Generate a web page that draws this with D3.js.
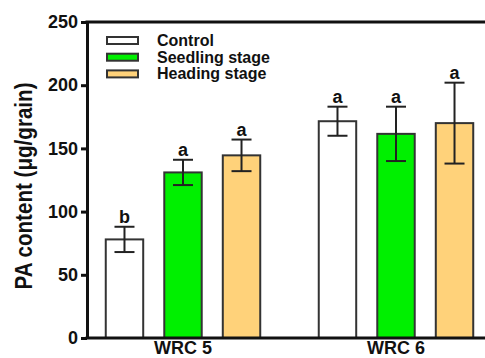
<!DOCTYPE html>
<html>
<head>
<meta charset="utf-8">
<script src="https://cdn.jsdelivr.net/npm/d3@7"></script>
<style>
  body { margin: 0; background: #fff; }
  text { font-family: "Liberation Sans", Arial, sans-serif; font-weight: bold; fill: #111; }
</style>
</head>
<body>
<div id="chart"></div>
<script>
// data
const groups = ['WRC 5', 'WRC 6'];
const series = ['Control', 'Seedling stage', 'Heading stage'];
const colors = ['#ffffff', '#00f000', '#ffd27a'];
const means = [
  [78, 131, 144.5],
  [171.5, 161.5, 170]
];
const errors = [
  [10, 10, 12.5],
  [11.5, 21.5, 32]
];
const letters = [
  ['b', 'a', 'a'],
  ['a', 'a', 'a']
];
const yTicks = [0, 50, 100, 150, 200, 250];

const width = 485, height = 358;
const plotLeft = 87, plotTop = 22, plotBottom = 338;

const svg = d3.select('#chart').append('svg')
  .attr('width', width)
  .attr('height', height);

const y = d3.scaleLinear().domain([0, 250]).range([plotBottom, plotTop]);

// group band is wider than the visible window, as in the cropped original
const xg = d3.scaleBand().domain(groups).range([76.5, 502.5]);
const xs = d3.scaleBand().domain(series).range([0, xg.bandwidth()])
  .paddingInner(0.36).paddingOuter(0.5);

const rows = (d, gi) => series.map((s, si) => ({
  s, si, v: means[gi][si], e: errors[gi][si], l: letters[gi][si]
}));

// bars
const g = svg.selectAll('.grp')
  .data(groups)
  .enter().append('g')
  .attr('class', 'grp')
  .attr('transform', d => 'translate(' + xg(d) + ',0)');

g.selectAll('rect')
  .data(rows)
  .enter().append('rect')
  .attr('x', d => xs(d.s))
  .attr('y', d => y(d.v))
  .attr('width', xs.bandwidth())
  .attr('height', d => y(0) - y(d.v))
  .attr('fill', d => colors[d.si])
  .attr('stroke', '#333')
  .attr('stroke-width', 2);

// error bars
const capW = 20;
const eb = g.selectAll('.eb')
  .data(rows)
  .enter().append('g')
  .attr('class', 'eb')
  .attr('transform', d => 'translate(' + (xs(d.s) + xs.bandwidth() / 2) + ',0)')
  .attr('stroke', '#222')
  .attr('stroke-width', 2);

eb.append('line')
  .attr('x1', 0).attr('x2', 0)
  .attr('y1', d => y(d.v - d.e)).attr('y2', d => y(d.v + d.e));
eb.append('line')
  .attr('x1', -capW / 2).attr('x2', capW / 2)
  .attr('y1', d => y(d.v + d.e)).attr('y2', d => y(d.v + d.e));
eb.append('line')
  .attr('x1', -capW / 2).attr('x2', capW / 2)
  .attr('y1', d => y(d.v - d.e)).attr('y2', d => y(d.v - d.e));

// significance letters
eb.append('text')
  .attr('stroke', 'none')
  .attr('y', d => y(d.v + d.e) - 4)
  .attr('text-anchor', 'middle')
  .style('font-size', '18px')
  .text(d => d.l);

// axes frame
const yAxis = svg.append('g')
  .attr('transform', 'translate(' + plotLeft + ',0)')
  .call(d3.axisLeft(y).tickValues(yTicks).tickSize(6).tickPadding(3).tickSizeOuter(0));
yAxis.select('.domain').attr('stroke', '#111').attr('stroke-width', 3);
yAxis.selectAll('.tick line').attr('stroke', '#111').attr('stroke-width', 3);
yAxis.selectAll('.tick text')
  .style('font-size', '18px')
  .style('font-family', '"Liberation Sans", Arial, sans-serif')
  .style('font-weight', 'bold')
  .attr('fill', '#111');

svg.append('line')
  .attr('x1', plotLeft - 1.5).attr('x2', width)
  .attr('y1', plotTop).attr('y2', plotTop)
  .attr('stroke', '#111').attr('stroke-width', 3);
svg.append('line')
  .attr('x1', plotLeft - 1.5).attr('x2', width)
  .attr('y1', plotBottom).attr('y2', plotBottom)
  .attr('stroke', '#111').attr('stroke-width', 3);

// group labels
svg.selectAll('.xlab')
  .data(groups)
  .enter().append('text')
  .attr('class', 'xlab')
  .attr('x', d => xg(d) + xg.bandwidth() / 2)
  .attr('y', 354)
  .attr('text-anchor', 'middle')
  .style('font-size', '18px')
  .text(d => d);

// y title: tall, narrow lettering
svg.append('text')
  .attr('transform', 'translate(32,186) rotate(-90)')
  .attr('text-anchor', 'middle')
  .attr('textLength', 207)
  .attr('lengthAdjust', 'spacingAndGlyphs')
  .style('font-size', '24px')
  .text('PA content (μg/grain)');

// legend
const lg = svg.selectAll('.legend')
  .data(series)
  .enter().append('g')
  .attr('class', 'legend')
  .attr('transform', (d, i) => 'translate(107,' + (37 + i * 16.7) + ')');
lg.append('rect')
  .attr('width', 31)
  .attr('height', 7)
  .attr('fill', (d, i) => colors[i])
  .attr('stroke', '#333')
  .attr('stroke-width', 2);
lg.append('text')
  .attr('x', 50)
  .attr('y', 9)
  .style('font-size', '16px')
  .text(d => d);
</script>
</body>
</html>
